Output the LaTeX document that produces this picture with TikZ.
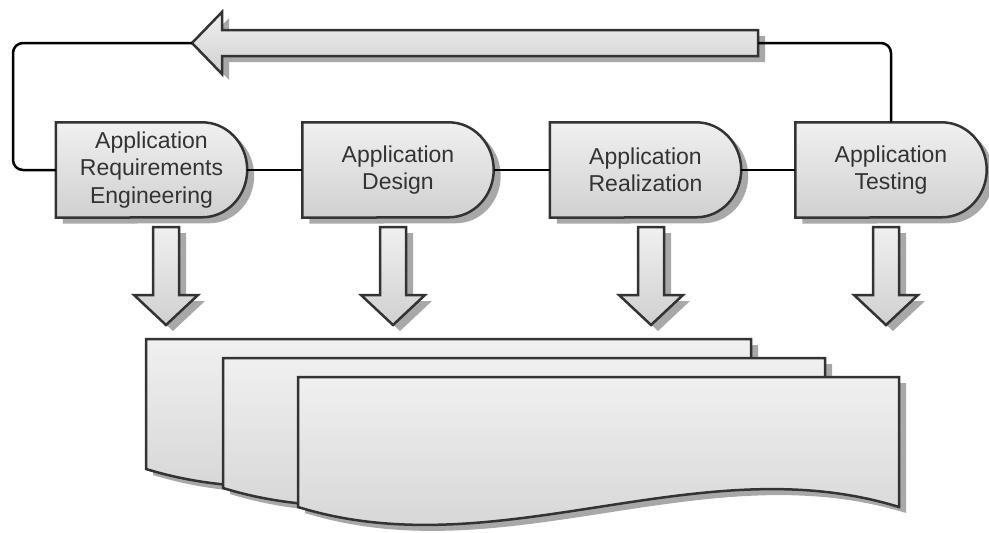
\documentclass[tikz,border=0pt]{standalone}
\usepackage{fontspec}
\setmainfont{Liberation Sans}
\usetikzlibrary{shadows,backgrounds}
\definecolor{fillhi}{RGB}{240,240,240}
\definecolor{filllo}{RGB}{208,208,208}
\definecolor{edgegray}{RGB}{51,51,51}
\definecolor{shadowgray}{RGB}{168,168,168}
\tikzset{
  gshadow/.style={drop shadow={shadow xshift=7pt,shadow yshift=-6pt,fill=shadowgray,opacity=1}},
  shaded/.style={draw=edgegray,line width=2.5pt,line join=miter,top color=fillhi,bottom color=filllo,gshadow},
  phase/.style={rectangle,inner sep=0pt,minimum width=191pt,minimum height=95pt,
    align=center,font=\fontsize{23}{27.5}\selectfont,text=black!80},
  link/.style={line width=2.5pt,black,rounded corners=10pt}
}
\begin{document}
\begin{tikzpicture}[x=1pt,y=-1pt]
	\useasboundingbox (0,0) rectangle (989,533);
	% documents
	\foreach \l/\t/\w in {146/339/605,223/358/602,298/377/601}
	{\path[shaded] (\l,\t) -- (\l+\w,\t) -- (\l+\w,\t+130) .. controls (\l+2*\w/3,\t+68) and (\l+\w/3,\t+192) .. (\l,\t+130) -- cycle;}
	% down arrows
	\foreach \c in {166,393,651,886}
	{\path[shaded] (\c-13,227) -- (\c+13,227) -- (\c+13,295) -- (\c+32,295) -- (\c,325) -- (\c-32,295) -- (\c-13,295) -- cycle;}
	% back arrow
	\coordinate (backtip) at (192,43);
	\coordinate (backtail) at (758,43);
	\path[shaded] (backtail) ++(0,-13) -- (222,30) -- (222,12) -- (backtip) -- (222,74) -- (222,56) -- (758,56) -- cycle;
	% phases
	\node[phase] (req) at (151.5,170) {Application\\Requirements\\Engineering};
	\node[phase] (des) at (398,170) {Application\\Design};
	\node[phase] (rea) at (645.5,170) {Application\\Realization};
	\node[phase] (tst) at (891,170) {Application\\Testing};
	\begin{scope}[on background layer]
	\foreach \n in {req,des,rea,tst}
	{\path[shaded] (\n.north west) -- ([xshift=-45pt]\n.north east) arc[start angle=90,end angle=-90,x radius=45pt,y radius=47.5pt] -- (\n.south west) -- cycle;}
	\end{scope}
	\draw[link] (req) -- (des);
	\draw[link] (des) -- (rea);
	\draw[link] (rea) -- (tst);
	\draw[link] (tst.north) |- (backtail);
	\draw[link] (req.west) -| (13,43) -- (backtip);
\end{tikzpicture}
\end{document}
